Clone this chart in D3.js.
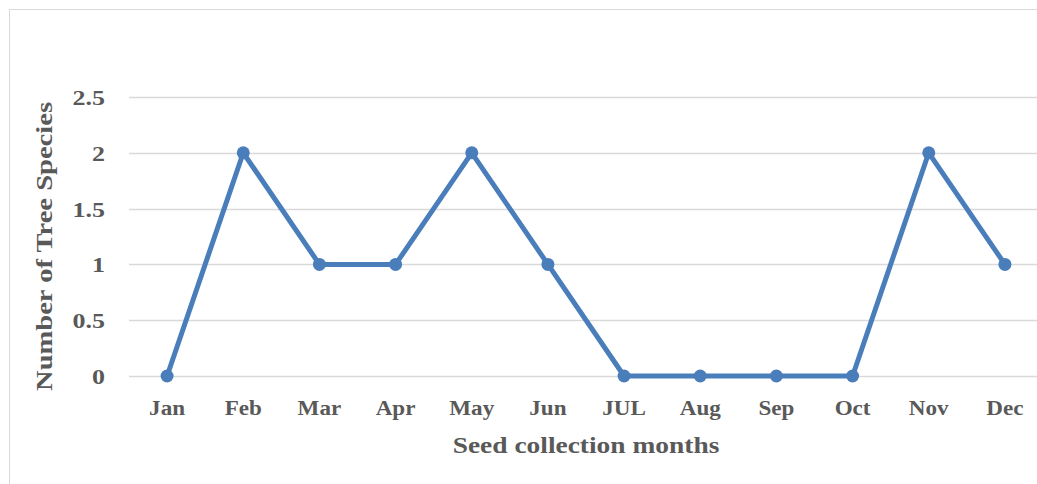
<!DOCTYPE html>
<html>
<head>
<meta charset="utf-8">
<script src="https://cdn.jsdelivr.net/npm/d3@7"></script>
<style>
  html, body { margin: 0; padding: 0; background: #fff; }
  svg { display: block; }
</style>
</head>
<body>
<svg id="chart" width="1037" height="484"></svg>
<script>
const months = ["Jan","Feb","Mar","Apr","May","Jun","JUL","Aug","Sep","Oct","Nov","Dec"];
const speciesCounts = [0, 2, 1, 1, 2, 1, 0, 0, 0, 0, 2, 1];
const yTicks = [0, 0.5, 1, 1.5, 2, 2.5];
const xTitle = "Seed collection months";
const yTitle = "Number of Tree Species";

const svg = d3.select("#chart");
const W = 1037, H = 484;
const plot = { left: 129, right: 1043, top: 97, bottom: 376 };
const textColor = "#595959";
const font = "'Liberation Serif', 'Times New Roman', serif";
const lineColor = "#4a7ebb";

// frame (cropped on right and bottom like the reference)
svg.append("rect")
  .attr("x", 9.5).attr("y", 9.5)
  .attr("width", W + 20).attr("height", H + 20)
  .attr("fill", "#fff").attr("stroke", "#d9d9d9").attr("stroke-width", 1);

const x = d3.scaleBand().domain(months).range([plot.left, plot.right]);
const y = d3.scaleLinear().domain([0, 2.5]).range([plot.bottom, plot.top]);

// gridlines
svg.append("g")
  .selectAll("line")
  .data(yTicks)
  .join("line")
  .attr("x1", plot.left).attr("x2", plot.right)
  .attr("y1", d => Math.round(y(d)) + 0.5).attr("y2", d => Math.round(y(d)) + 0.5)
  .attr("stroke", "#d9d9d9").attr("stroke-width", 1.3);

// y axis labels
const yAxis = svg.append("g")
  .attr("transform", `translate(${plot.left},0)`)
  .call(d3.axisLeft(y).tickValues(yTicks).tickSize(0).tickPadding(0).tickFormat(d => String(d)));
yAxis.select(".domain").remove();
yAxis.selectAll("text")
  .attr("fill", textColor)
  .attr("font-family", font)
  .attr("font-weight", "bold")
  .attr("font-size", 22)
  .attr("text-anchor", "end")
  .attr("dy", "0.34em")
  .attr("transform", function(d) { return `translate(-24,${y(d)}) scale(1.18,1) translate(0,${-y(d)})`; });

// x axis labels
const xAxis = svg.append("g")
  .attr("transform", `translate(0,${plot.bottom})`)
  .call(d3.axisBottom(x).tickSize(0).tickPadding(0));
xAxis.select(".domain").remove();
xAxis.selectAll(".tick text")
  .attr("fill", textColor)
  .attr("font-family", font)
  .attr("font-weight", "bold")
  .attr("font-size", 21)
  .attr("y", 0)
  .attr("dy", 0)
  .attr("transform", "translate(0,39) scale(1.1,1)");

// axis titles
svg.append("text")
  .attr("transform", `translate(${(plot.left + plot.right) / 2 - 0},453) scale(1.22,1)`)
  .attr("text-anchor", "middle")
  .attr("fill", textColor)
  .attr("font-family", font)
  .attr("font-weight", "bold")
  .attr("font-size", 22.5)
  .text(xTitle);

svg.append("text")
  .attr("transform", `translate(52,${(plot.top + plot.bottom) / 2 + 10}) rotate(-90) scale(1.27,1)`)
  .attr("text-anchor", "middle")
  .attr("fill", textColor)
  .attr("font-family", font)
  .attr("font-weight", "bold")
  .attr("font-size", 22.5)
  .text(yTitle);

// line
const line = d3.line()
  .x((d, i) => x(months[i]) + x.bandwidth() / 2)
  .y(d => y(d));

svg.append("path")
  .datum(speciesCounts)
  .attr("d", line)
  .attr("fill", "none")
  .attr("stroke", lineColor)
  .attr("stroke-width", 5)
  .attr("stroke-linejoin", "round")
  .attr("stroke-linecap", "round");

svg.append("g")
  .selectAll("circle")
  .data(speciesCounts)
  .join("circle")
  .attr("cx", (d, i) => x(months[i]) + x.bandwidth() / 2)
  .attr("cy", d => y(d))
  .attr("r", 6.5)
  .attr("fill", lineColor);
</script>
</body>
</html>
